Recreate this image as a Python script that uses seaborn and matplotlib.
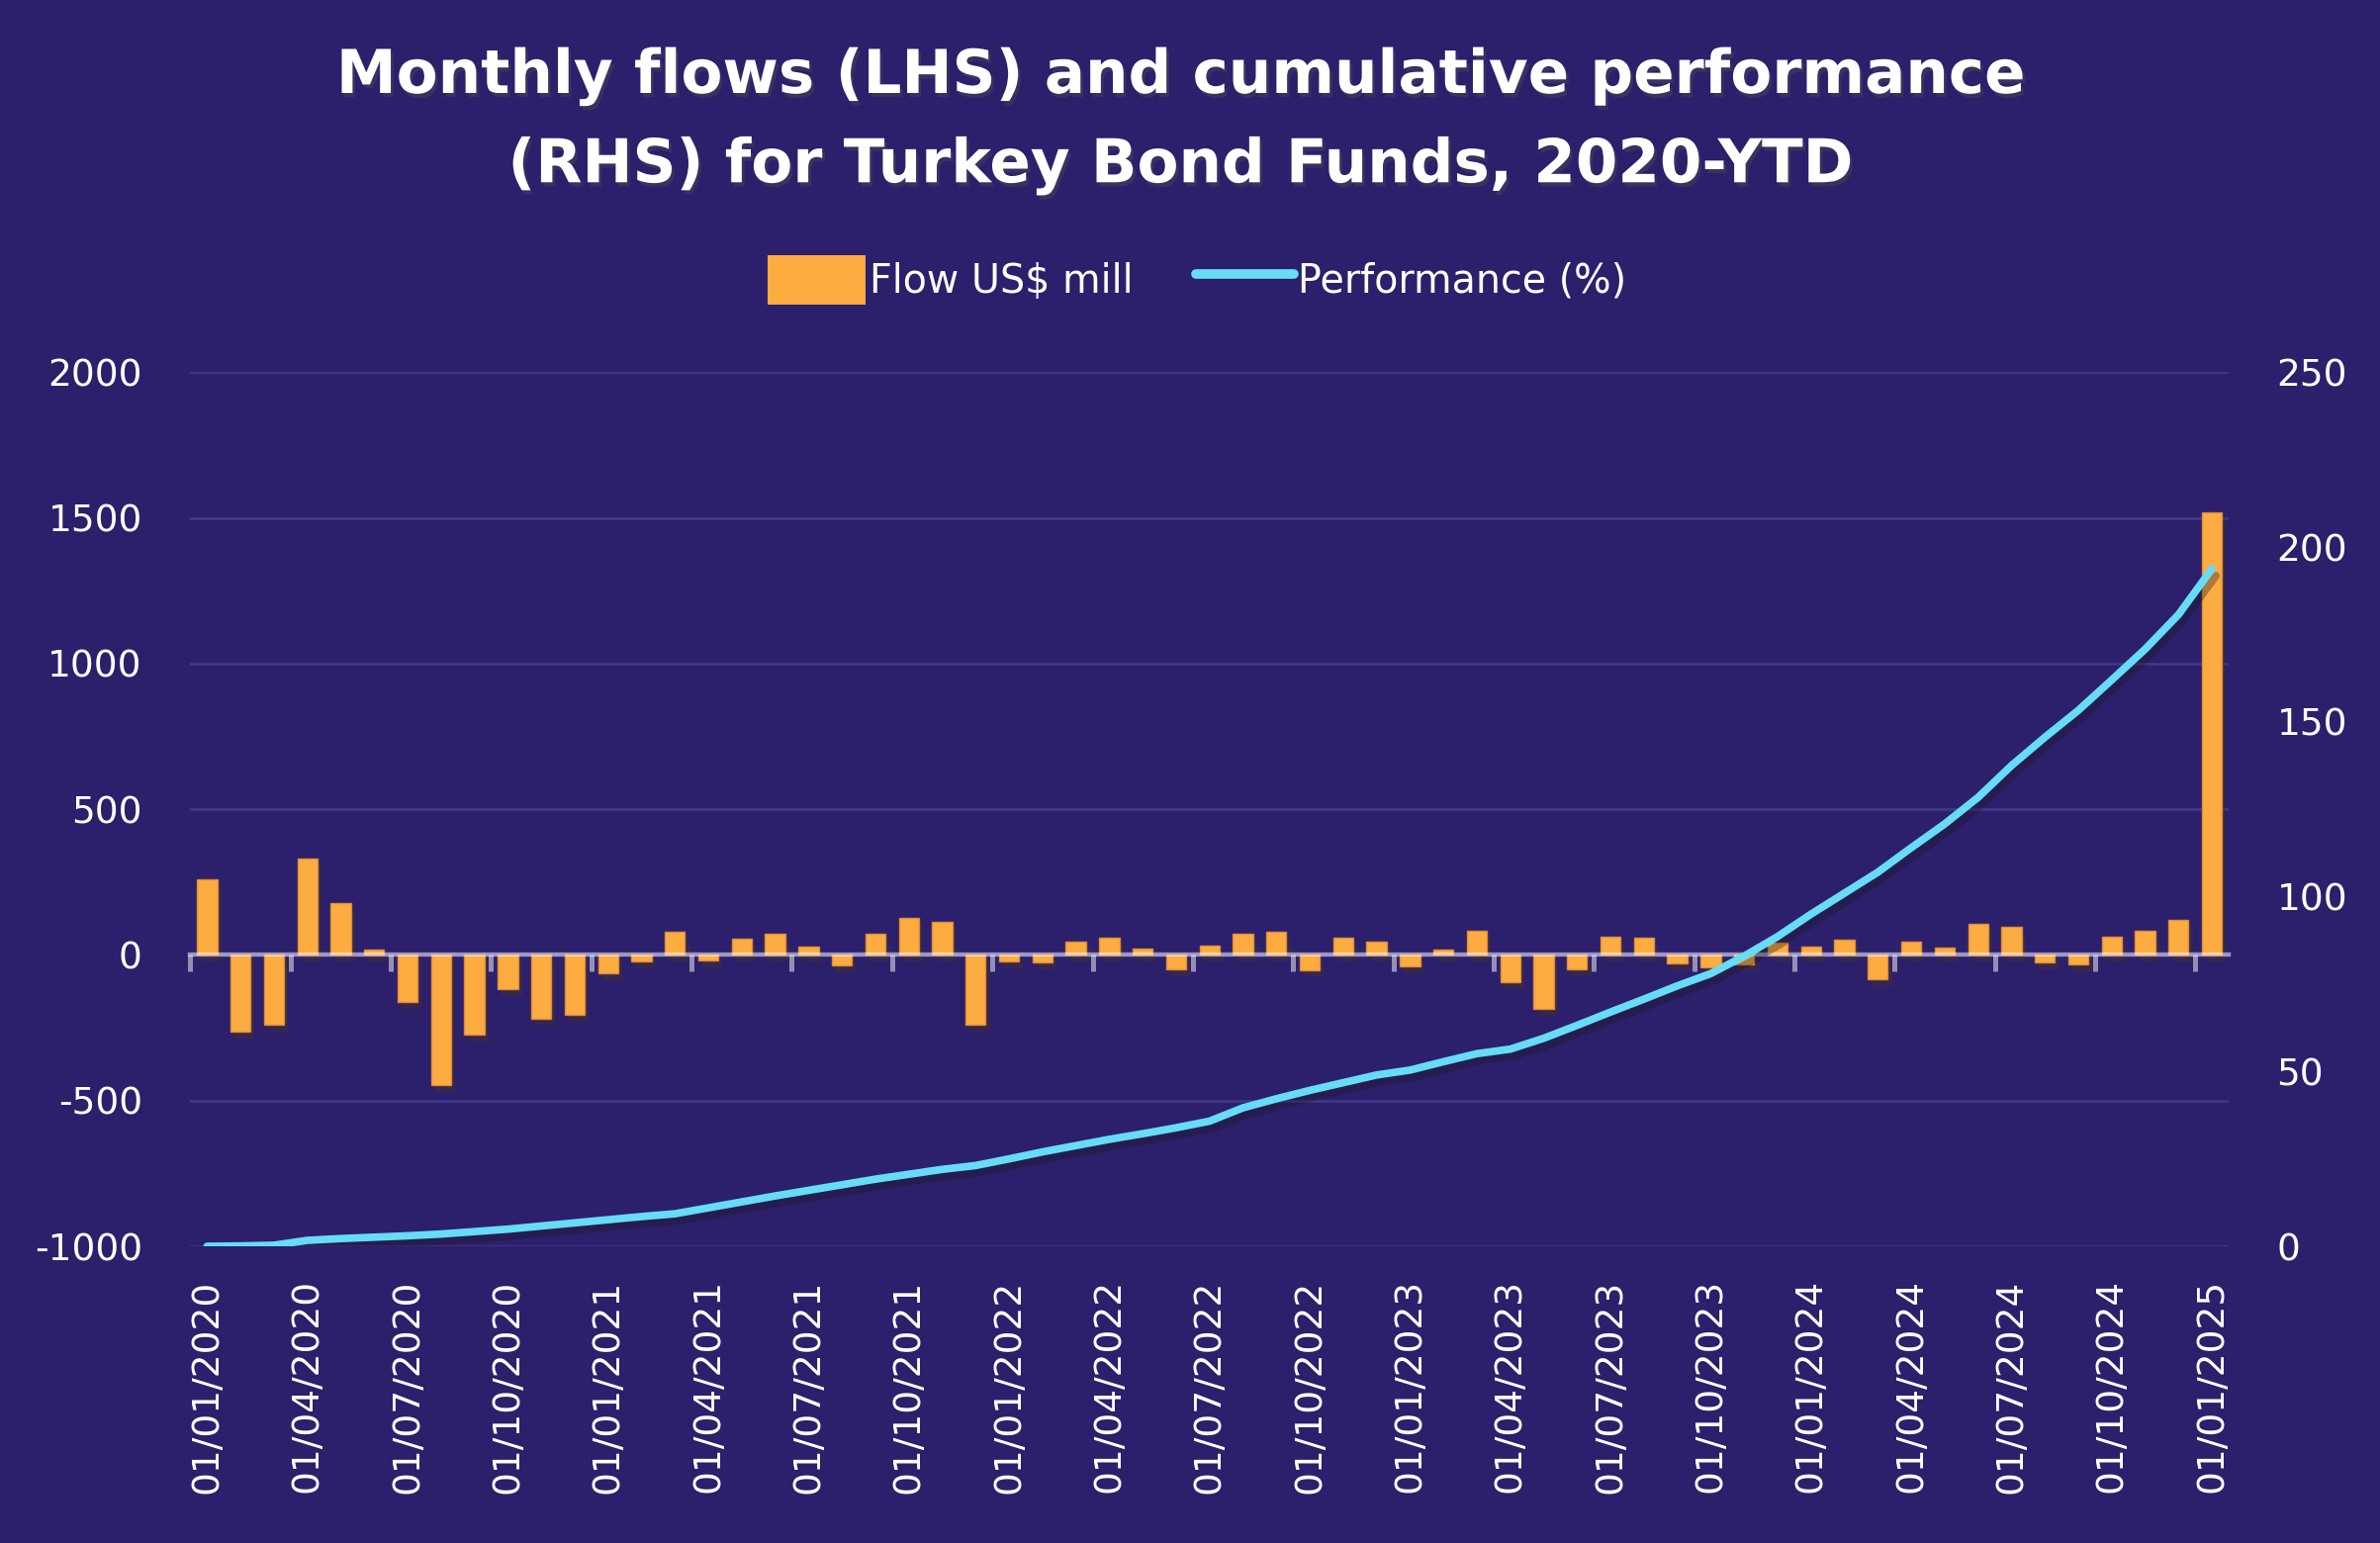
#!/usr/bin/env python3

import numpy as np
import pandas as pd
import matplotlib.pyplot as plt
import matplotlib.patheffects as pe
from matplotlib.patches import Patch
from matplotlib.lines import Line2D
import seaborn as sns

# monthly data, Jan 2020 - Jan 2025
months = pd.date_range("2020-01-01", "2025-01-01", freq="MS")
flows = [258, -262, -238, 330, 178, 17, -163, -448, -272, -116, -218, -205,
         -62, -21, 79, -18, 55, 72, 28, -35, 72, 126, 112, -239,
         -22, -25, 47, 60, 23, -49, 33, 74, 81, -51, 58, 45,
         -40, 19, 84, -93, -184, -49, 62, 59, -28, -42, -34, 41,
         30, 54, -82, 47, 24, 106, 96, -26, -34, 62, 82, 120,
         1520]
performance = [0.0, 0.1, 0.3, 1.7, 2.2, 2.6, 3.0, 3.5, 4.2, 4.9, 5.8, 6.7,
               7.6, 8.5, 9.3, 11.0, 12.7, 14.4, 16.0, 17.6, 19.2, 20.6, 22.0, 23.1,
               25.0, 27.0, 28.8, 30.6, 32.2, 33.9, 35.8, 39.6, 42.2, 44.6, 46.8, 49.0,
               50.4, 52.8, 55.1, 56.4, 59.5, 63.2, 67.0, 70.7, 74.5, 78.0, 83.0, 88.6,
               95.0, 101.0, 107.0, 114.0, 120.8, 128.4, 137.5, 145.6, 153.3, 162.0, 170.8, 180.7,
               193.8]
left_ticks = [-1000, -500, 0, 500, 1000, 1500, 2000]
right_ticks = [0, 50, 100, 150, 200, 250]
title = "Monthly flows (LHS) and cumulative performance\n(RHS) for Turkey Bond Funds, 2020-YTD"
series_names = ["Flow US$ mill", "Performance (%)"]

BG = "#2c1f6c"
ORANGE = "#fdac42"
CYAN = "#66dcf7"
GRID = "#40368a"
ZERO = (1, 1, 1, 0.5)

sns.set_theme(style="dark")
plt.rcParams["font.family"] = ["DejaVu Sans"]
plt.rcParams["axes.facecolor"] = BG
plt.rcParams["figure.facecolor"] = BG
plt.rcParams["axes.unicode_minus"] = False

df = pd.DataFrame({"month": months.strftime("%d/%m/%Y"),
                   "flow": flows,
                   "perf": performance})
n = len(df)
pos = np.arange(n)

fig = plt.figure(figsize=(24.06, 15.6), dpi=100)
ax = fig.add_axes([0.080, 0.1923, 0.8564, 0.5664])

sns.barplot(data=df, x="month", y="flow", color=ORANGE, saturation=1,
            width=0.6, edgecolor="#dc8e33", linewidth=1, ax=ax)
for bar in ax.patches:
    bar.set_path_effects([pe.SimplePatchShadow(offset=(3, -5), alpha=0.35), pe.Normal()])

ax.set_ylim(left_ticks[0], left_ticks[-1])
ax.set_yticks(left_ticks)
ax.set_axisbelow(True)
ax.grid(axis="y", color=GRID, linewidth=2)
ax.grid(axis="x", visible=False)
for s in ax.spines.values():
    s.set_visible(False)

# zero line with quarter tick marks between categories
sec = ax.secondary_xaxis((0 - left_ticks[0]) / (left_ticks[-1] - left_ticks[0]))
sec.set_xticks(pos[::3] - 0.5)
sec.tick_params(axis="x", direction="out", length=12, width=3.6, color=ZERO,
                labelbottom=False, labeltop=False)
sec.spines["bottom"].set_color(ZERO)
sec.spines["bottom"].set_linewidth(3.2)
sec.set_zorder(5)

ax2 = ax.twinx()
sns.lineplot(x=pos, y=df["perf"], color=CYAN, linewidth=5.5, ax=ax2,
             solid_capstyle="round")
ax2.lines[0].set_path_effects([pe.SimpleLineShadow(offset=(3, -5), alpha=0.35), pe.Normal()])
ax2.set_ylim(right_ticks[0], right_ticks[-1])
ax2.set_yticks(right_ticks)
ax2.grid(False)
for s in ax2.spines.values():
    s.set_visible(False)

ax.set_xlim(-0.5, n - 0.5)
ax.set_xticks(pos[::3])
ax.set_xticklabels(df["month"][::3], rotation=90)
ax.set_xlabel("")
ax.set_ylabel("")
ax2.set_ylabel("")

ax.tick_params(axis="x", length=0, pad=24, labelsize=27, labelcolor="white")
ax.tick_params(axis="y", length=0, pad=35, labelsize=27, labelcolor="white")
ax2.tick_params(axis="y", length=0, pad=35, labelsize=27, labelcolor="white")

fig.text(0.496, 1 - 48 / 1560, title, ha="center", va="top", fontsize=44,
         fontweight="bold", color="white", linespacing=1.68,
         path_effects=[pe.SimplePatchShadow(offset=(2, -3), alpha=0.4), pe.Normal()])

handles = [Patch(facecolor=ORANGE, edgecolor="none"),
           Line2D([], [], color=CYAN, linewidth=7)]
fig.legend(handles, series_names, loc="center", bbox_to_anchor=(0.503, 1 - 283 / 1560),
           ncol=2, frameon=False, fontsize=28.5, labelcolor="white",
           handlelength=2.5, handleheight=1.6, handletextpad=0.1, columnspacing=1.6)

plt.savefig("out.png", dpi=100, facecolor=BG)
plt.close()
